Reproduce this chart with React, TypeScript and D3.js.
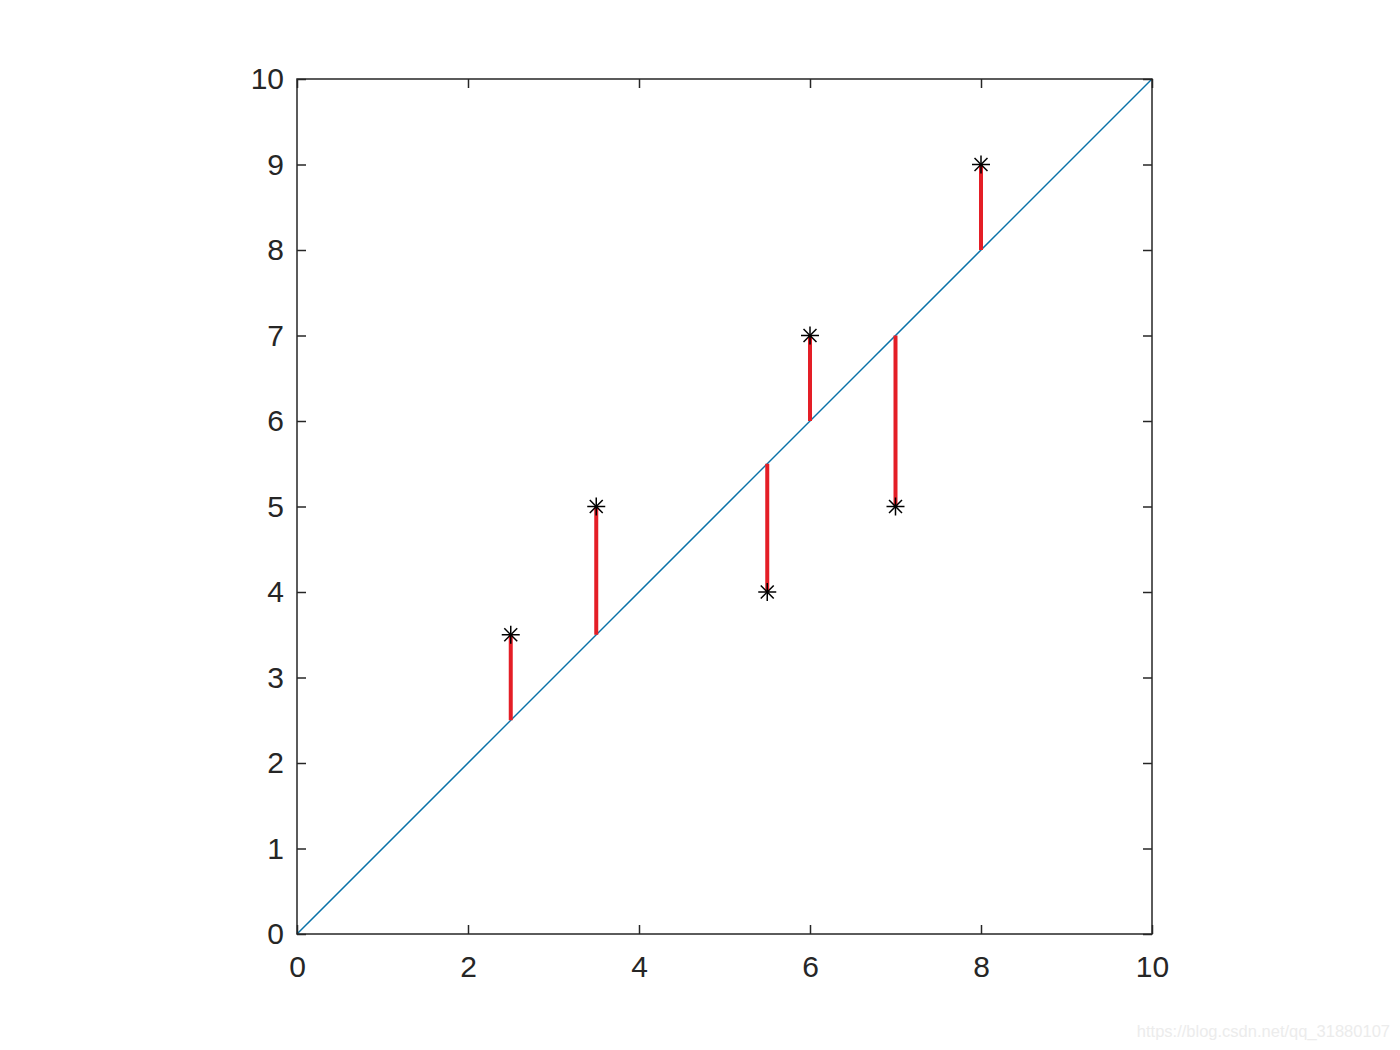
import { useEffect, useRef } from "react";
import * as d3 from "d3";

const xTicks = [0, 2, 4, 6, 8, 10];
const yTicks = [0, 1, 2, 3, 4, 5, 6, 7, 8, 9, 10];
const pointX = [2.5, 3.5, 5.5, 6, 7, 8];
const pointY = [3.5, 5, 4, 7, 5, 9];
const fitLine = [0, 10];

export default function App() {
  const ref = useRef<SVGSVGElement | null>(null);
  const width = 1400;
  const height = 1050;
  const m = { top: 79, right: 248, bottom: 116, left: 297 };

  useEffect(() => {
    const svg = d3.select(ref.current);
    svg.selectAll("*").remove();

    const x = d3.scaleLinear().domain([0, 10]).range([m.left, width - m.right]);
    const y = d3.scaleLinear().domain([0, 10]).range([height - m.bottom, m.top]);
    const axisColor = "#262626";
    const font = "Arial, 'Liberation Sans', sans-serif";

    svg.append("rect").attr("width", width).attr("height", height).attr("fill", "#fff");

    const g = svg.append("g");

    // fit line y = x
    g.append("path")
      .attr("d", d3.line<number>().x((d) => x(d)).y((d) => y(d))(fitLine)!)
      .attr("fill", "none")
      .attr("stroke", "#0a72a8")
      .attr("stroke-width", 1.5);

    // residuals
    pointX.forEach((px, i) => {
      g.append("line")
        .attr("x1", x(px))
        .attr("x2", x(px))
        .attr("y1", y(pointY[i]))
        .attr("y2", y(px))
        .attr("stroke", "#E41E26")
        .attr("stroke-width", 4);
    });

    // asterisk markers
    const r = 9;
    pointX.forEach((px, i) => {
      const cx = x(px);
      const cy = y(pointY[i]);
      const mk = g.append("g").attr("transform", `translate(${cx},${cy})`).attr("stroke", "#000").attr("stroke-width", 1.5);
      mk.append("line").attr("x1", -r).attr("x2", r).attr("y1", 0).attr("y2", 0);
      mk.append("line").attr("x1", 0).attr("x2", 0).attr("y1", -r).attr("y2", r);
      const d = r * 0.72;
      mk.append("line").attr("x1", -d).attr("x2", d).attr("y1", -d).attr("y2", d);
      mk.append("line").attr("x1", -d).attr("x2", d).attr("y1", d).attr("y2", -d);
    });

    const tick = 9;
    const styleAxis = (s: d3.Selection<SVGGElement, unknown, null, undefined>) => {
      s.select(".domain").remove();
      s.selectAll("line").attr("stroke", axisColor).attr("stroke-width", 1.5);
      s.selectAll("text").attr("fill", axisColor).attr("font-family", font).attr("font-size", 30);
    };

    // bottom
    g.append("g")
      .attr("transform", `translate(0,${y(0)})`)
      .call(d3.axisBottom(x).tickValues(xTicks).tickSizeInner(-tick).tickSizeOuter(0).tickPadding(22))
      .call(styleAxis);
    // top
    g.append("g")
      .attr("transform", `translate(0,${y(10)})`)
      .call(d3.axisTop(x).tickValues(xTicks).tickSizeInner(-tick).tickSizeOuter(0).tickFormat(() => ""))
      .call(styleAxis);
    // left
    g.append("g")
      .attr("transform", `translate(${x(0)},0)`)
      .call(d3.axisLeft(y).tickValues(yTicks).tickSizeInner(-tick).tickSizeOuter(0).tickPadding(13))
      .call(styleAxis);
    // right
    g.append("g")
      .attr("transform", `translate(${x(10)},0)`)
      .call(d3.axisRight(y).tickValues(yTicks).tickSizeInner(-tick).tickSizeOuter(0).tickFormat(() => ""))
      .call(styleAxis);

    // box
    g.append("rect")
      .attr("x", x(0))
      .attr("y", y(10))
      .attr("width", x(10) - x(0))
      .attr("height", y(0) - y(10))
      .attr("fill", "none")
      .attr("stroke", axisColor)
      .attr("stroke-width", 1.5);

    svg.append("text")
      .attr("x", 1390)
      .attr("y", 1037)
      .attr("text-anchor", "end")
      .attr("font-family", font)
      .attr("font-size", 16.5)
      .attr("fill", "#ececec")
      .text("https://blog.csdn.net/qq_31880107");
  }, []);

  return (
    <div style={{ margin: -8 }}>
      <svg ref={ref} width={width} height={height} style={{ display: "block" }} />
    </div>
  );
}
